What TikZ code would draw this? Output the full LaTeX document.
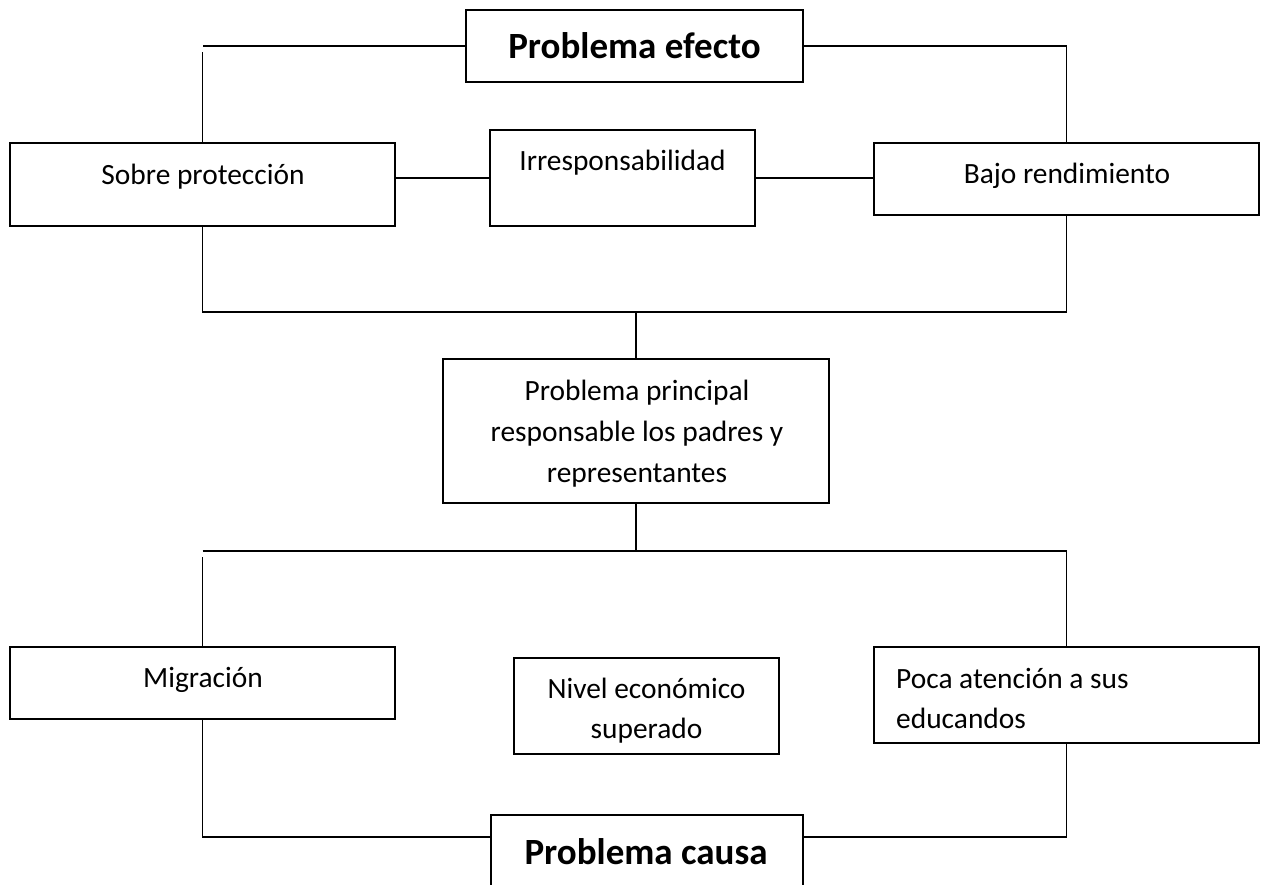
\documentclass[tikz,border=0pt]{standalone}
\usepackage{fontspec}
\setmainfont{Carlito}
\begin{document}
\begin{tikzpicture}[x=1pt,y=-1pt,
  box/.style={draw, rectangle, inner sep=0pt, line width=1.8pt},
  txt/.style={font=\fontsize{29.4}{40.5}\selectfont, inner sep=0pt, anchor=base},
  ttl/.style={font=\bfseries\fontsize{37}{44}\selectfont, inner sep=0pt, anchor=base},
  conn/.style={draw, line width=1.8pt}]
\useasboundingbox (0,0) rectangle (1261,884);
\clip (0,0) rectangle (1261,884);
\fill[white] (0,0) rectangle (1261,884);
% boxes
\node[box, minimum width=337pt, minimum height=72pt] (eff) at (634.5,46) {};
\node[box, minimum width=385pt, minimum height=83pt] (sp) at (202.5,184.5) {};
\node[box, minimum width=265pt, minimum height=96pt] (irr) at (622.5,178) {};
\node[box, minimum width=385pt, minimum height=72pt] (bajo) at (1066.5,179) {};
\node[box, minimum width=386pt, minimum height=144pt] (main) at (636,431) {};
\node[box, minimum width=385pt, minimum height=72pt] (mig) at (202.5,683) {};
\node[box, minimum width=265pt, minimum height=96pt] (niv) at (646.5,706) {};
\node[box, minimum width=385pt, minimum height=96pt] (poca) at (1066.5,695) {};
\node[box, minimum width=312pt, minimum height=80pt] (causa) at (647,855) {};
% texts
\node[ttl] (teff) at (634.5,58) {Problema efecto};
\node[txt] (tsp) at (203,184) {Sobre protección};
\node[txt] (tirr) at (622.5,170) {Irresponsabilidad};
\node[txt] (tbajo) at (1067,183) {Bajo rendimiento};
\node[txt] (tmain1) at (637,400) {Problema principal};
\node[txt] (tmain2) at (637,441) {responsable los padres y};
\node[txt] (tmain3) at (637,482) {representantes};
\node[txt] (tmig) at (203,687) {Migración};
\node[txt] (tniv1) at (646.5,698) {Nivel económico};
\node[txt] (tniv2) at (646.5,738) {superado};
\node[txt, anchor=base west] (tpoca1) at (896,688) {Poca atención a sus};
\node[txt, anchor=base west] (tpoca2) at (896,728) {educandos};
\node[ttl] (tcausa) at (646,864) {Problema causa};
% connectors
\coordinate (tl) at (202.5,46);
\coordinate (tlv) at (202.5,52);
\draw[conn] (eff.west) -- (tl);
\draw[conn] (tlv) -- (sp.north);
\draw[conn] (eff.east) -| (bajo.north);
\draw[conn] (irr.west) -- (irr.west -| sp.east);
\draw[conn] (irr.east) -- (irr.east -| bajo.west);
\coordinate (jt) at (636,312);
\draw[conn] (sp.south) |- (jt) -| (bajo.south);
\draw[conn] (jt) -- (main.north);
\coordinate (jb) at (636,551);
\coordinate (bl) at (202.5,551);
\coordinate (blv) at (202.5,557);
\draw[conn] (main.south) -- (jb);
\draw[conn] (bl) -- (jb) -| (poca.north);
\draw[conn] (blv) -- (mig.north);
\draw[conn] (mig.south) |- ([yshift=-23pt]causa.north west);
\draw[conn] (poca.south) |- ([yshift=-23pt]causa.north east);
\end{tikzpicture}
\end{document}
